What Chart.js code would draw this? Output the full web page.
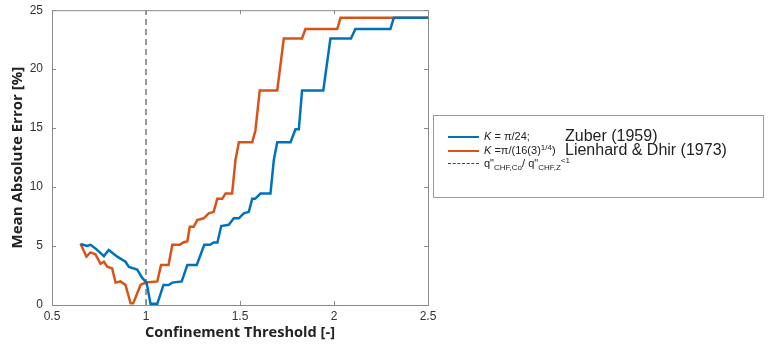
<!DOCTYPE html>
<html>
<head>
<meta charset="utf-8">
<script src="https://cdn.jsdelivr.net/npm/chart.js@4/dist/chart.umd.min.js"></script>
<style>
  body { margin: 0; background: #fff; }
  #wrap { position: relative; width: 769px; height: 346px; }
  #legend {
    position: absolute; left: 433px; top: 115px; width: 331px; height: 83px;
    border: 1px solid #9a9a9a; box-sizing: border-box;
    font-family: "Liberation Sans", Arial, sans-serif; color: #222;
  }
  .row { position: absolute; left: 0; height: 14px; line-height: 14px; }
  .swatch { position: absolute; left: 14px; top: 7px; width: 31px; height: 0; }
  .lbl { position: absolute; left: 50px; top: 0; font-size: 11px; white-space: nowrap; line-height: 14px; }
  .ref { position: absolute; left: 131px; top: -1px; font-size: 16px; white-space: nowrap; line-height: 16px; }
  sup, sub { font-size: 8px; line-height: 0; }
  sup { vertical-align: 4px; }
  sub { vertical-align: -3px; }
</style>
</head>
<body>
<div id="wrap">
  <canvas id="chartMAE" width="769" height="346"></canvas>
  <div id="legend">
    <div class="row" style="top:13px"><div class="swatch" style="border-top:2px solid #0072BD"></div>
      <span class="lbl"><i>K</i> = &pi;/24;</span><span class="ref">Zuber (1959)</span></div>
    <div class="row" style="top:27px"><div class="swatch" style="border-top:2px solid #D95319"></div>
      <span class="lbl"><i>K</i> =&pi;/(16(3)<sup>1/4</sup>)</span><span class="ref">Lienhard &amp; Dhir (1973)</span></div>
    <div class="row" style="top:40px"><div class="swatch" style="border-top:1px dashed #444"></div>
      <span class="lbl">q"<sub>CHF,Co</sub>/ q"<sub>CHF,Z</sub><sup>&lt;1</sup></span></div>
  </div>
</div>
<script>
const zuberX = [0.652,0.687,0.705,0.731,0.776,0.802,0.847,0.891,0.909,0.953,0.98,1.003,1.024,1.06,1.093,1.12,1.14,1.19,1.22,1.27,1.31,1.34,1.36,1.38,1.40,1.44,1.46,1.467,1.494,1.52,1.547,1.565,1.58,1.609,1.662,1.68,1.698,1.769,1.795,1.813,1.83,1.943,1.981,2.09,2.114,2.30,2.318,2.5]
const zuberY = [5.17,5.0,5.1,4.8,4.15,4.66,4.1,3.67,3.22,3.0,2.3,1.9,0.1,0.1,1.7,1.7,1.9,2.0,3.4,3.4,5.1,5.1,5.3,5.3,6.7,6.8,7.2,7.35,7.35,7.77,7.9,9.0,9.0,9.45,9.45,12.3,13.8,13.8,14.9,14.9,18.2,18.2,22.6,22.6,23.4,23.4,24.35,24.35]

const lienhardX = [0.652,0.683,0.705,0.731,0.758,0.776,0.794,0.82,0.838,0.864,0.891,0.918,0.932,0.971,0.997,1.06,1.08,1.12,1.14,1.18,1.198,1.22,1.233,1.254,1.272,1.307,1.334,1.36,1.379,1.405,1.423,1.458,1.476,1.494,1.565,1.582,1.605,1.698,1.733,1.83,1.848,2.017,2.035,2.5]
const lienhardY = [5.2,4.1,4.46,4.3,3.5,3.67,3.25,3.1,1.9,2.0,1.7,0.14,0.14,1.7,1.9,2.0,3.4,3.4,5.1,5.1,5.3,5.4,6.64,6.64,7.2,7.35,7.77,7.9,9.0,9.0,9.45,9.45,12.3,13.8,13.8,14.8,18.2,18.2,22.6,22.6,23.4,23.4,24.35,24.35]

const thresholdX = [1, 1]
const thresholdY = [0, 25]

const toPoints = (xs, ys) => xs.map((x, i) => ({ x: x, y: ys[i] }))

// MATLAB style box with inward ticks
const boxPlugin = {
    id: 'box',
    afterDraw(chart) {
        const { ctx, chartArea: a, scales } = chart
        ctx.save()
        ctx.strokeStyle = '#8a8a8a'
        ctx.lineWidth = 1
        ctx.strokeRect(a.left + 0.5, a.top + 0.5, a.right - a.left, a.bottom - a.top)
        ctx.beginPath()
        scales.x.ticks.forEach(t => {
            const px = Math.round(scales.x.getPixelForValue(t.value)) + 0.5
            ctx.moveTo(px, a.bottom); ctx.lineTo(px, a.bottom - 4)
            ctx.moveTo(px, a.top); ctx.lineTo(px, a.top + 4)
        })
        scales.y.ticks.forEach(t => {
            const py = Math.round(scales.y.getPixelForValue(t.value)) + 0.5
            ctx.moveTo(a.left, py); ctx.lineTo(a.left + 4, py)
            ctx.moveTo(a.right, py); ctx.lineTo(a.right - 4, py)
        })
        ctx.stroke()
        ctx.restore()
    }
}

new Chart(document.getElementById('chartMAE'), {
    type: 'line',
    data: {
        datasets: [
            { data: toPoints(zuberX, zuberY), borderColor: '#0072BD', borderWidth: 2.5, pointRadius: 0, tension: 0 },
            { data: toPoints(lienhardX, lienhardY), borderColor: '#D95319', borderWidth: 2.5, pointRadius: 0, tension: 0 },
            { data: toPoints(thresholdX, thresholdY), borderColor: '#555', borderWidth: 1.2, borderDash: [6, 4], pointRadius: 0 }
        ]
    },
    options: {
        responsive: false,
        animation: false,
        layout: { padding: { top: 10, right: 341, left: 0, bottom: 0 } },
        scales: {
            x: {
                type: 'linear', min: 0.5, max: 2.5,
                ticks: { stepSize: 0.5, padding: 4, color: '#333', font: { family: 'Liberation Sans', size: 12 },
                         callback: v => String(Number(v)) },
                grid: { display: false, drawTicks: false },
                border: { display: false },
                title: { display: true, text: 'Confinement Threshold [-]', color: '#222', padding: { top: 2, bottom: 4 },
                         font: { family: 'Open Sans', size: 14.6, weight: 'bold' } },
                afterFit: s => { s.height = 41 }
            },
            y: {
                min: 0, max: 25,
                ticks: { stepSize: 5, padding: 3, color: '#333', font: { family: 'Liberation Sans', size: 12 } },
                grid: { display: false, drawTicks: true, tickLength: 6 },
                border: { display: false },
                title: { display: true, text: 'Mean Absolute Error [%]', color: '#222', padding: { top: 9, bottom: 4 },
                         font: { family: 'Open Sans', size: 15, weight: 'bold' } },
                afterFit: s => { s.width = 52 }
            }
        },
        plugins: { legend: { display: false }, tooltip: { enabled: false } }
    },
    plugins: [boxPlugin]
})
</script>
</body>
</html>
